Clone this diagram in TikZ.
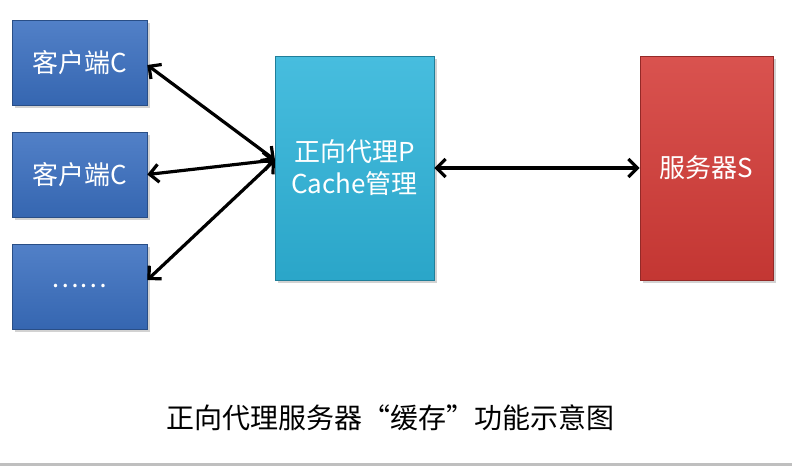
\documentclass[tikz,border=0pt]{standalone}
\usepackage{fontspec}
\setmainfont{Noto Sans CJK SC}
\usetikzlibrary{arrows.meta,shadows}
\begin{document}
\begin{tikzpicture}[x=1pt,y=-1pt,
  box/.style={draw=#1!70!black,line width=0.6pt,top color=#1!88!white,bottom color=#1!92!black,drop shadow={shadow xshift=3pt,shadow yshift=-3pt,opacity=0.35},text=white,font=\fontsize{26}{32}\selectfont,align=center,inner sep=0pt},
  conn/.style={line width=3.2pt,{Straight Barb[length=9pt,width=18pt,line width=3.2pt]}-{Straight Barb[length=9pt,width=18pt,line width=3.2pt]}}]
\definecolor{cb}{HTML}{3A6FC0}
\definecolor{cc}{HTML}{2EB4DA}
\definecolor{cr}{HTML}{D43B37}
\useasboundingbox (0,0) rectangle (792,474);
\fill[white] (0,0) rectangle (792,474);
\node[box=cb,minimum width=135pt,minimum height=85pt] (c1) at (79.5,62.5) {客户端C};
\node[box=cb,minimum width=135pt,minimum height=85pt] (c2) at (79.5,174.5) {客户端C};
\node[box=cb,minimum width=135pt,minimum height=85pt] (c3) at (79.5,286.5) {……};
\node[box=cc,minimum width=159pt,minimum height=224pt] (p) at (354.5,168) {正向代理P\\Cache管理};
\node[box=cr,minimum width=133pt,minimum height=224pt] (s) at (706.5,168) {服务器S};
\coordinate (pl) at (275,160);
\draw[conn] (c1.east|-0,65) -- (pl);
\draw[conn] (c2.east) -- (pl);
\draw[conn] (c3.east|-0,280) -- (pl);
\draw[conn] (p.east) -- (s.west);
\node[font=\fontsize{28}{32}\selectfont] (cap) at (390,418) {正向代理服务器“缓存”功能示意图};
\fill[gray!50] (0,463) rectangle (792,466);
\end{tikzpicture}
\end{document}
